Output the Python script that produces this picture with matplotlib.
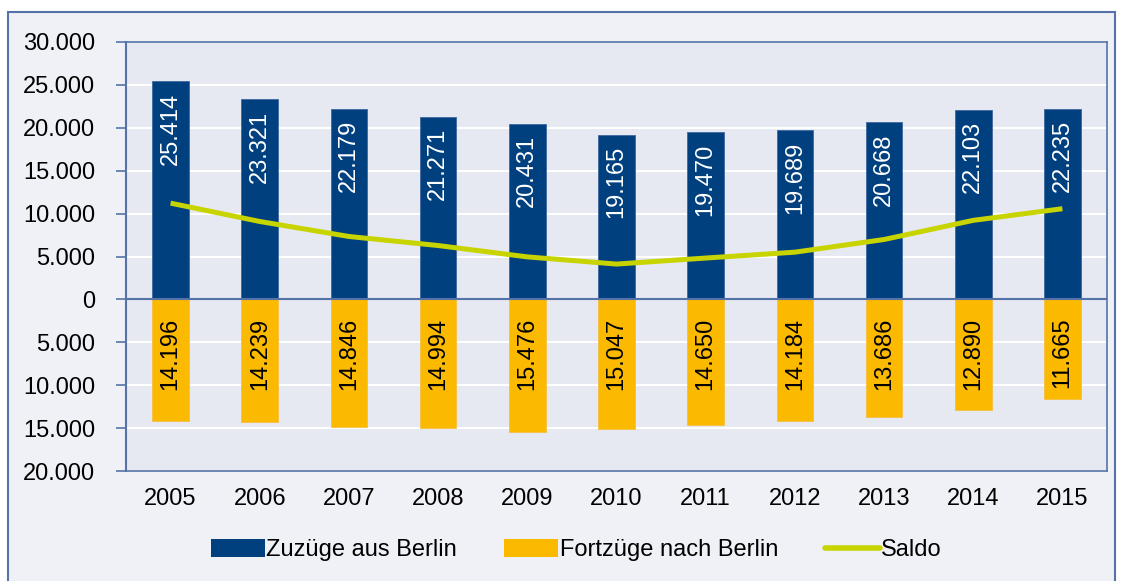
import matplotlib
matplotlib.use("Agg")
import matplotlib.pyplot as plt
from matplotlib.patches import Rectangle
from matplotlib.lines import Line2D
from matplotlib.ticker import FixedLocator

years = ["2005", "2006", "2007", "2008", "2009", "2010", "2011", "2012", "2013", "2014", "2015"]
zuzuege = [25414, 23321, 22179, 21271, 20431, 19165, 19470, 19689, 20668, 22103, 22235]
fortzuege = [14196, 14239, 14846, 14994, 15476, 15047, 14650, 14184, 13686, 12890, 11665]
saldo = [11218, 9082, 7333, 6277, 4955, 4118, 4820, 5505, 6982, 9213, 10570]
yticks = [-20000, -15000, -10000, -5000, 0, 5000, 10000, 15000, 20000, 25000, 30000]

NAVY = "#00407F"
ORANGE = "#FBB900"
LIME = "#C8D400"
FRAME = "#5573A8"

plt.rcParams["font.family"] = ["Liberation Sans", "DejaVu Sans"]
fs = 17

W, H = 1123, 581
fig = plt.figure(figsize=(W / 100, H / 100), dpi=100)
fig.patch.set_facecolor("white")
bgrect = Rectangle((8 / W, -0.05), (1115 - 8) / W, (H - 12) / H + 0.05,
                   transform=fig.transFigure, facecolor="#F0F1F7",
                   edgecolor=FRAME, linewidth=1.5, zorder=-10)
fig.patches.append(bgrect)

ax = fig.add_axes([126 / W, (H - 471) / H, (1107 - 126) / W, (471 - 42) / H], zorder=2)
ax.set_facecolor("#E6E9F2")
x = list(range(len(years)))
neg = [-v for v in fortzuege]
ax.bar(x, zuzuege, width=0.41, color=NAVY, edgecolor="#3F68A0", linewidth=0.6, zorder=3)
ax.bar(x, neg, width=0.41, color=ORANGE, edgecolor="#F5C040", linewidth=0.6, zorder=3)
ax.plot(x, saldo, color=LIME, linewidth=3.6, solid_joinstyle="miter", solid_capstyle="butt", zorder=4)

for xi, v in zip(x, zuzuege):
    ax.annotate(f"{v:,}".replace(",", "."), (xi, v), xytext=(0, -8), textcoords="offset points",
                rotation=90, ha="center", va="top", color="white", fontsize=fs, zorder=5)
for xi, v in zip(x, fortzuege):
    ax.annotate(f"{v:,}".replace(",", "."), (xi, 0), xytext=(0, -13), textcoords="offset points",
                rotation=90, ha="center", va="top", color="black", fontsize=fs, zorder=5)

ax.set_xlim(-0.5, len(years) - 0.5)
ax.set_ylim(-20000, 30000)
ax.yaxis.set_major_locator(FixedLocator(yticks))
ax.set_yticklabels([f"{abs(t):,}".replace(",", ".") for t in yticks], fontsize=fs)
ax.grid(axis="y", color="white", linewidth=1.5, zorder=1)
ax.set_axisbelow(True)
ax.set_xticks(x)
ax.set_xticklabels(years, fontsize=fs)
ax.tick_params(axis="x", length=0, pad=12)
ax.tick_params(axis="y", length=7, width=1.2, color=FRAME, pad=15, direction="out")
for s in ["top", "right", "bottom"]:
    ax.spines[s].set_color(FRAME)
    ax.spines[s].set_linewidth(1.2)
ax.spines["left"].set_color(FRAME)
ax.spines["left"].set_linewidth(1.5)
ax.axhline(0, color=FRAME, linewidth=1.5, zorder=4)

handles = [Rectangle((0, 0), 1, 1, facecolor=NAVY),
           Rectangle((0, 0), 1, 1, facecolor=ORANGE),
           Line2D([], [], color=LIME, linewidth=4, solid_capstyle="round")]
fig.legend(handles, ["Zuzüge aus Berlin", "Fortzüge nach Berlin", "Saldo"],
           loc="center", bbox_to_anchor=(576 / W, 1 - 550 / H), ncol=3, frameon=False,
           fontsize=fs, handlelength=2.3, handleheight=0.8, handletextpad=0.05, columnspacing=2.0)

fig.savefig("out.png", dpi=100, facecolor=fig.get_facecolor())
